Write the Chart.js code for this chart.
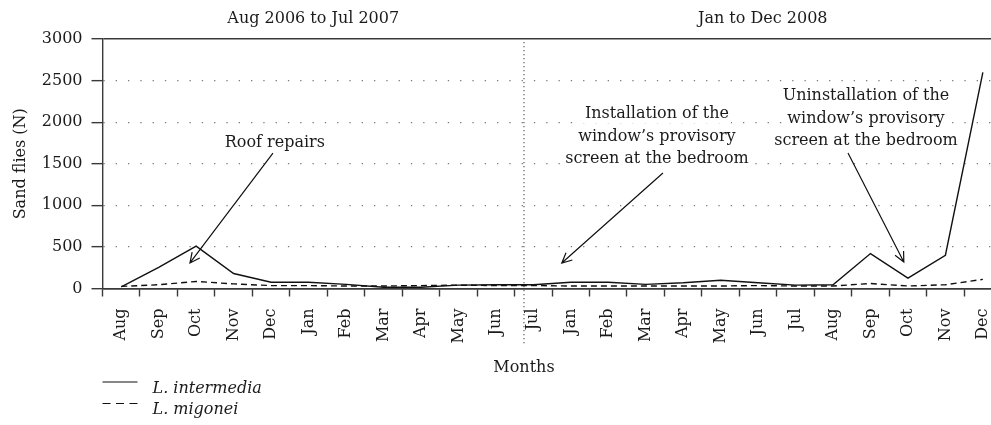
<!DOCTYPE html>
<html>
<head>
<meta charset="utf-8">
<title>Sand flies per month</title>
<script src="https://cdn.jsdelivr.net/npm/chart.js@4.4.1/dist/chart.umd.min.js"></script>
<style>
  html, body { margin: 0; padding: 0; background: #fff; overflow: hidden; }
  #wrap { width: 1030px; height: 425px; }
</style>
</head>
<body>
<div id="wrap"><canvas id="chart" width="1030" height="425"></canvas></div>
<script>
const months = ["Aug", "Sep", "Oct", "Nov", "Dec", "Jan", "Feb", "Mar", "Apr", "May", "Jun", "Jul",
  "Jan", "Feb", "Mar", "Apr", "May", "Jun", "Jul", "Aug", "Sep", "Oct", "Nov", "Dec"];
const intermedia = [20, 255, 510, 180, 75, 75, 50, 15, 15, 40, 45, 45,
  75, 75, 50, 70, 100, 70, 40, 45, 420, 125, 400, 2600];
const migonei = [25, 45, 85, 55, 35, 35, 30, 30, 35, 40, 35, 35,
  30, 30, 30, 30, 30, 35, 30, 30, 60, 30, 45, 110];
const yTicks = [0, 500, 1000, 1500, 2000, 2500, 3000];
const periodTitles = ["Aug 2006 to Jul 2007", "Jan to Dec 2008"];
const periodSplit = 10.75; // category position of the dotted divider

// notes: text baseline anchored at [category index, value]; arrow from -> to in the same units
const notes = [
  { lines: ["Roof repairs"], at: [4.1, 1707], from: [4.05, 1629], to: [1.835, 307] },
  { lines: ["Installation of the", "window\u2019s provisory", "screen at the bedroom"], at: [14.3, 2050], from: [14.46, 1389], to: [11.76, 307] },
  { lines: ["Uninstallation of the", "window\u2019s provisory", "screen at the bedroom"], at: [19.88, 2266], from: [19.4, 1629], to: [20.89, 319] },
];

const axisColor = "#3a3a3a";
const textColor = "#1b1b1b";
const fontFamily = "'DejaVu Serif', serif";
const baseFont = { family: fontFamily, size: 16 };

function edgeTick(ctx) {
  return ctx.tick && (ctx.tick.value === yTicks[0] || ctx.tick.value === yTicks[yTicks.length - 1]);
}

function drawArrow(ctx, x1, y1, x2, y2) {
  const angle = Math.atan2(y2 - y1, x2 - x1);
  const head = 11;
  ctx.beginPath();
  ctx.moveTo(x1, y1);
  ctx.lineTo(x2, y2);
  ctx.moveTo(x2 - head * Math.cos(angle - 0.45), y2 - head * Math.sin(angle - 0.45));
  ctx.lineTo(x2, y2);
  ctx.lineTo(x2 - head * Math.cos(angle + 0.45), y2 - head * Math.sin(angle + 0.45));
  ctx.stroke();
}

const notesPlugin = {
  id: "notes",
  beforeDatasetsDraw(chart) {
    const { ctx, scales: { x, y }, chartArea } = chart;
    ctx.save();

    // dotted divider between the two periods
    const sx = x.getPixelForValue(periodSplit);
    ctx.strokeStyle = "#6a6a6a";
    ctx.lineWidth = 1.3;
    ctx.setLineDash([1.3, 2.7]);
    ctx.beginPath();
    ctx.moveTo(sx, chartArea.top + 3);
    ctx.lineTo(sx, chartArea.bottom + 57);
    ctx.stroke();
    ctx.setLineDash([]);

    ctx.font = `16px ${fontFamily}`;
    ctx.textAlign = "center";
    ctx.textBaseline = "alphabetic";
    notes.forEach((note) => {
      const cx = x.getPixelForValue(note.at[0]);
      const by = y.getPixelForValue(note.at[1]);
      note.lines.forEach((line, i) => {
        const w = ctx.measureText(line).width;
        const ly = by + i * 22.5;
        ctx.fillStyle = "#fff";
        ctx.fillRect(cx - w / 2 - 2, ly - 15, w + 4, 20);
        ctx.fillStyle = textColor;
        ctx.fillText(line, cx, ly);
      });
      ctx.strokeStyle = "#111";
      ctx.lineWidth = 1.2;
      drawArrow(ctx,
        x.getPixelForValue(note.from[0]), y.getPixelForValue(note.from[1]),
        x.getPixelForValue(note.to[0]), y.getPixelForValue(note.to[1]));
    });
    ctx.restore();
  },
  afterDraw(chart) {
    const { ctx, scales: { x }, chartArea } = chart;
    const sx = x.getPixelForValue(periodSplit);
    ctx.save();
    ctx.font = `16px ${fontFamily}`;
    ctx.fillStyle = textColor;
    ctx.textAlign = "center";
    ctx.textBaseline = "alphabetic";
    ctx.fillText(periodTitles[0], (chartArea.left + sx) / 2, chartArea.top - 16);
    ctx.fillText(periodTitles[1], (sx + chartArea.right) / 2, chartArea.top - 16);
    ctx.fillText("Months", sx, chartArea.bottom + 83);

    // legend, one series per row
    ctx.textAlign = "left";
    chart.data.datasets.forEach((ds, i) => {
      const ly = chartArea.bottom + 93.5 + i * 21.5;
      ctx.strokeStyle = "#111";
      ctx.lineWidth = 1.2;
      ctx.setLineDash(ds.legendDash);
      ctx.beginPath();
      ctx.moveTo(chartArea.left, ly);
      ctx.lineTo(chartArea.left + 35, ly);
      ctx.stroke();
      ctx.setLineDash([]);
      ctx.font = `italic 16px ${fontFamily}`;
      ctx.fillText(ds.label, chartArea.left + 50, ly + 10.5);
    });
    ctx.restore();
  },
};

new Chart(document.querySelector("#chart"), {
  type: "line",
  data: {
    labels: months,
    datasets: [
      { label: "L. intermedia", data: intermedia, borderColor: "#111", borderWidth: 1.4, pointRadius: 0, tension: 0, legendDash: [] },
      { label: "L. migonei", data: migonei, borderColor: "#111", borderWidth: 1.4, borderDash: [6, 4], pointRadius: 0, tension: 0, legendDash: [8, 5.5] },
    ],
  },
  options: {
    responsive: false,
    animation: false,
    devicePixelRatio: 1,
    layout: { padding: { left: 0, top: 39, right: 28.4, bottom: 0 } },
    plugins: { legend: { display: false }, tooltip: { enabled: false } },
    scales: {
      x: {
        offset: true,
        grid: { offset: true, drawOnChartArea: false, tickLength: 8, tickColor: axisColor, tickWidth: 1.4, color: axisColor },
        border: { color: axisColor, width: 1.4 },
        ticks: { autoSkip: false, maxRotation: 90, minRotation: 90, padding: 12, font: baseFont, color: textColor },
        afterFit: (scale) => { scale.height = 136.5; },
      },
      y: {
        min: 0,
        max: 3000,
        afterBuildTicks: (scale) => { scale.ticks = yTicks.map((value) => ({ value })); },
        grid: {
          color: (ctx) => (edgeTick(ctx) ? axisColor : "#7a7a7a"),
          lineWidth: (ctx) => (edgeTick(ctx) ? 1.4 : 1.3),
          tickColor: axisColor,
          tickWidth: 1.4,
          tickLength: 11,
        },
        border: { color: axisColor, width: 1.4, dash: (ctx) => (edgeTick(ctx) ? [] : [1.3, 11]) },
        ticks: { padding: 9, font: baseFont, color: textColor, callback: (value) => String(value) },
        title: { display: true, text: "Sand flies (N)", font: baseFont, color: textColor, padding: { top: 11, bottom: 0 } },
        afterFit: (scale) => { scale.width = 102.5; },
      },
    },
  },
  plugins: [notesPlugin],
});
</script>
</body>
</html>
